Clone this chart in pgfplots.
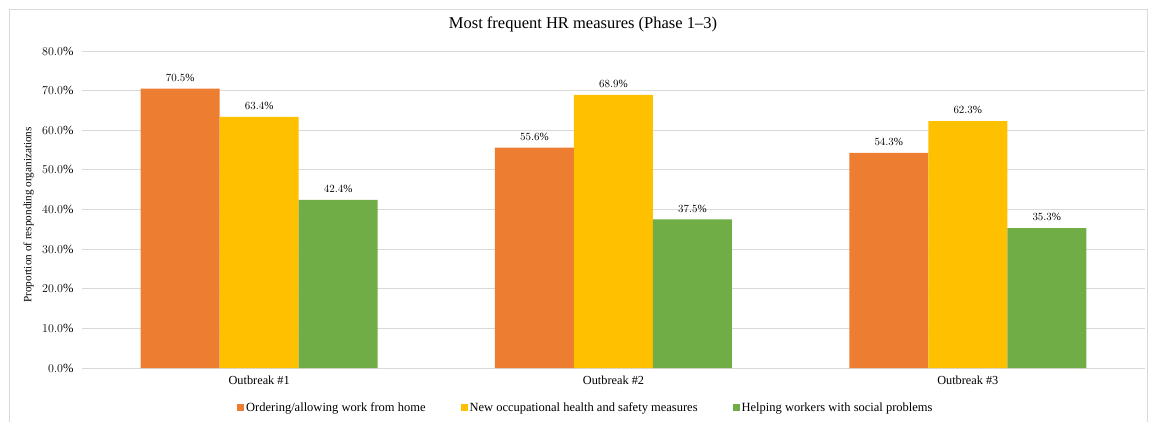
\documentclass[border=0pt]{standalone}
\usepackage{fontspec}
\setmainfont{Liberation Serif}
\usepackage{pgfplots}
\pgfplotsset{compat=1.18}
\definecolor{c1}{HTML}{ED7D31}
\definecolor{c2}{HTML}{FFC000}
\definecolor{c3}{HTML}{70AD47}
\definecolor{gridc}{HTML}{D9D9D9}
\begin{document}
\begin{tikzpicture}[x=1pt,y=1pt]
\useasboundingbox (-82,-53) rectangle (1069,368);
\draw[gridc, line width=0.8pt] (-72.5,-70) rectangle (1065,358.5);
\begin{axis}[
  at={(0,0)}, anchor=south west,
  scale only axis, width=1063pt, height=317pt,
  xmin=-0.5, xmax=2.5, ymin=0, ymax=80,
  ytick={0,10,...,80},
  yticklabel={\pgfmathprintnumber[fixed,fixed zerofill,precision=1]{\tick}\%},
  xtick={0,1,2},
  xticklabels={Outbreak \#1, Outbreak \#2, Outbreak \#3},
  ymajorgrids, grid style={gridc, line width=0.8pt},
  axis line style={draw=none},
  major tick length=0pt, tick style={draw=none},
  yticklabel style={font=\fontsize{12.5}{14}\selectfont, xshift=-5pt},
  xticklabel style={font=\fontsize{12.3}{14}\selectfont, yshift=-4pt},
  ybar=0pt, bar width=79pt,
  title={Most frequent HR measures (Phase 1--3)},
  title style={at={(axis description cs:0.4713,1)}, anchor=center, yshift=21pt, font=\fontsize{16.5}{19}\selectfont},
  ylabel={Proportion of responding organizations},
  ylabel style={at={(axis description cs:-0.0503,0.483)}, anchor=center, font=\fontsize{11.2}{13}\selectfont},
  nodes near coords={\pgfmathprintnumber[fixed,fixed zerofill,precision=1]{\pgfplotspointmeta}\%},
  every node near coord/.append style={font=\fontsize{11}{13}\selectfont, black, anchor=south, inner sep=0pt, yshift=7pt},
  legend style={at={(axis description cs:0.474,-0.126)}, anchor=center, draw=none, font=\fontsize{12.5}{14}\selectfont, legend columns=-1, /tikz/every even column/.append style={column sep=33pt}, inner sep=0pt},
  legend image code/.code={\fill[#1] (0pt,-3.5pt) rectangle (7pt,3.5pt);},
]
\addplot[fill=c1, draw=none] coordinates {(0,70.5) (1,55.6) (2,54.3)};
\addplot[fill=c2, draw=none] coordinates {(0,63.4) (1,68.9) (2,62.3)};
\addplot[fill=c3, draw=none] coordinates {(0,42.4) (1,37.5) (2,35.3)};
\legend{Ordering/allowing work from home, New occupational health and safety measures, Helping workers with social problems}
\end{axis}
\end{tikzpicture}
\end{document}
